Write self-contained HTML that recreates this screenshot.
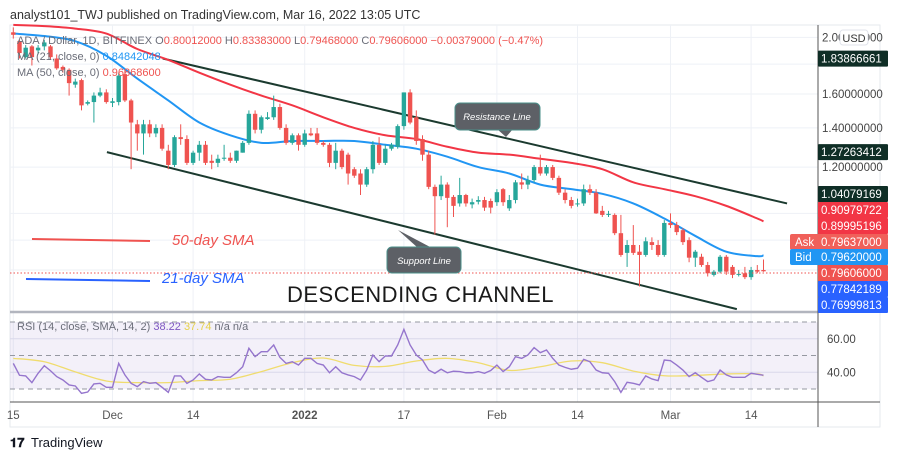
<!DOCTYPE html>
<html><head><meta charset="utf-8">
<style>
html,body{margin:0;padding:0;background:#fff;}
body{width:900px;height:460px;overflow:hidden;position:relative;font-family:"Liberation Sans",sans-serif;}
svg{position:absolute;left:0;top:0;}
</style></head>
<body>
<svg id="chart" width="900" height="460" viewBox="0 0 900 460" xmlns="http://www.w3.org/2000/svg">
  <text x="10" y="19" font-size="12.5" fill="#333">analyst101_TWJ published on TradingView.com, Mar 16, 2022 13:05 UTC</text>
  <rect x="10" y="25" width="870" height="402" fill="none" stroke="#e6e9ee"/>
  <g id="grid"></g>
  <rect x="10" y="322" width="808" height="67" fill="#7e57c2" fill-opacity="0.09"/>
  <g id="rsiGuides"></g>
  <g id="channel"></g>
  <g id="mas"></g>
  <g id="candles"></g>
  <g id="rsi"></g>
  <line x1="10" y1="273" x2="818" y2="273" stroke="#ef5350" stroke-width="1" stroke-dasharray="1.5,2"/>
  <line x1="10" y1="312" x2="818" y2="312" stroke="#b2b5be" stroke-width="2.5"/>
  <line x1="10" y1="402" x2="880" y2="402" stroke="#555" stroke-width="1"/>
  <line x1="818" y1="25" x2="818" y2="427" stroke="#555" stroke-width="1"/>
  <g id="xticks"></g>
  <g id="yticks"></g>

  <g font-size="11">
    <text x="17" y="44" fill="#6a6d78">ADA / Dollar, 1D, BITFINEX <tspan fill="#6a6d78">O</tspan><tspan fill="#ef5350">0.80012000</tspan> <tspan fill="#6a6d78">H</tspan><tspan fill="#ef5350">0.83383000</tspan> <tspan fill="#6a6d78">L</tspan><tspan fill="#ef5350">0.79468000</tspan> <tspan fill="#6a6d78">C</tspan><tspan fill="#ef5350">0.79606000 −0.00379000 (−0.47%)</tspan></text>
    <text x="17" y="60" fill="#6a6d78">MA (21, close, 0) <tspan fill="#2196f3">0.84842048</tspan></text>
    <text x="17" y="76" fill="#6a6d78">MA (50, close, 0) <tspan fill="#ef5350">0.96868600</tspan></text>
    <text x="17" y="330" fill="#6a6d78">RSI (14, close, SMA, 14, 2) <tspan fill="#7e57c2">38.22</tspan> <tspan fill="#e6d24a">37.74</tspan> <tspan>n/a</tspan> <tspan>n/a</tspan></text>
  </g>

  <line x1="32" y1="239" x2="150" y2="241" stroke="#ef5350" stroke-width="2"/>
  <text x="172" y="245" font-size="15" font-style="italic" fill="#ef5350">50-day SMA</text>
  <line x1="26" y1="279" x2="150" y2="281" stroke="#2962ff" stroke-width="2"/>
  <text x="162" y="283" font-size="15" font-style="italic" fill="#2962ff">21-day SMA</text>
  <text x="287" y="302" font-size="22" fill="#1a1a1a" letter-spacing="0.5">DESCENDING CHANNEL</text>

  <g>
    <path d="M398,230 L418,248 L432,248 Z" fill="#5d6066"/>
    <rect x="387" y="247" width="74" height="26" rx="5" fill="#5d6066" stroke="#4a8f8a" stroke-width="1"/>
    <text x="424" y="264" font-size="9.5" font-style="italic" fill="#fff" text-anchor="middle">Support Line</text>
  </g>
  <g>
    <path d="M497,129 L506,137 L513,129 Z" fill="#5d6066"/>
    <rect x="455" y="103" width="85" height="27" rx="5" fill="#5d6066" stroke="#4a8f8a" stroke-width="1"/>
    <text x="497" y="120" font-size="9.5" font-style="italic" fill="#fff" text-anchor="middle">Resistance Line</text>
  </g>

  <g id="priceBoxes"></g>

  <g>
    <text x="10" y="447" font-size="13" font-weight="bold" fill="#131722">𝟏𝟕</text>
    <text x="31" y="447" font-size="13" fill="#131722">TradingView</text>
  </g>
</svg>
<script>
// ---- data ----
const tickLabels = ['15','Dec','14','2022','17','Feb','14','Mar','14'];
const tickDays = [0,16,29,47,63,78,91,106,119];
const priceTicks = [2.0,1.6,1.4,1.2];
const gridPrices = [2.0,1.8,1.6,1.4,1.2,1.0,0.9,0.8];
const opens = [2.04,1.97,1.85,1.93,1.90,1.93,1.93,1.84,1.78,1.76,1.66,1.69,1.54,1.55,1.59,1.61,1.545,1.55,1.73,1.56,1.42,1.37,1.42,1.37,1.40,1.28,1.21,1.35,1.34,1.22,1.27,1.31,1.23,1.22,1.24,1.245,1.23,1.27,1.32,1.48,1.39,1.45,1.46,1.52,1.40,1.32,1.36,1.31,1.37,1.37,1.32,1.31,1.22,1.28,1.26,1.19,1.17,1.12,1.19,1.31,1.22,1.29,1.30,1.41,1.61,1.46,1.34,1.26,1.11,1.07,1.12,1.067,1.04,1.075,1.036,1.047,1.054,1.05,1.045,1.10,1.02,1.054,1.13,1.12,1.14,1.20,1.17,1.20,1.15,1.085,1.054,1.036,1.04,1.10,1.085,1.01,0.994,0.994,0.925,0.856,0.883,0.86,0.849,0.893,0.883,0.849,0.963,0.955,0.936,0.90,0.84,0.843,0.816,0.785,0.795,0.843,0.81,0.785,0.79,0.778,0.80,0.80012];
const highs = [2.08,1.98,1.94,1.94,1.94,1.98,1.94,1.87,1.79,1.77,1.70,1.70,1.56,1.61,1.64,1.63,1.575,1.74,1.76,1.57,1.445,1.445,1.445,1.42,1.42,1.31,1.36,1.42,1.36,1.28,1.33,1.33,1.26,1.26,1.31,1.27,1.28,1.33,1.50,1.50,1.47,1.49,1.59,1.54,1.42,1.37,1.37,1.39,1.40,1.40,1.33,1.32,1.32,1.29,1.27,1.20,1.19,1.20,1.33,1.35,1.31,1.32,1.42,1.61,1.63,1.50,1.36,1.28,1.12,1.16,1.13,1.075,1.15,1.08,1.06,1.07,1.067,1.06,1.10,1.105,1.075,1.14,1.17,1.16,1.21,1.26,1.21,1.21,1.16,1.10,1.067,1.06,1.12,1.12,1.10,1.03,1.01,1.00,0.994,0.90,0.955,0.883,0.91,0.91,0.90,0.974,1.00,0.967,0.944,0.91,0.866,0.853,0.826,0.80,0.849,0.849,0.816,0.80,0.81,0.81,0.816,0.83383];
const lows = [1.99,1.84,1.84,1.79,1.87,1.90,1.83,1.76,1.74,1.59,1.64,1.50,1.53,1.43,1.58,1.54,1.52,1.53,1.55,1.19,1.28,1.26,1.35,1.35,1.28,1.19,1.20,1.31,1.21,1.21,1.23,1.21,1.19,1.20,1.23,1.22,1.22,1.27,1.31,1.37,1.37,1.445,1.445,1.39,1.31,1.31,1.28,1.30,1.355,1.31,1.30,1.20,1.19,1.19,1.12,1.15,1.075,1.11,1.17,1.21,1.21,1.28,1.29,1.39,1.42,1.31,1.23,1.10,0.92,1.054,0.947,0.986,1.027,1.027,1.02,1.036,1.01,1.00,1.03,1.03,1.01,1.04,1.10,1.10,1.13,1.16,1.16,1.14,1.075,1.04,1.02,1.027,1.03,1.075,0.998,0.986,0.986,0.918,0.843,0.81,0.849,0.75,0.843,0.866,0.843,0.843,0.944,0.918,0.883,0.825,0.81,0.81,0.78,0.78,0.79,0.785,0.775,0.78,0.772,0.77,0.79,0.79468];
const closes = [2.02,1.88,1.92,1.85,1.92,1.96,1.85,1.77,1.76,1.67,1.68,1.53,1.55,1.59,1.61,1.55,1.555,1.72,1.56,1.43,1.37,1.42,1.37,1.40,1.29,1.21,1.35,1.34,1.22,1.27,1.31,1.22,1.22,1.24,1.245,1.23,1.28,1.32,1.48,1.39,1.46,1.46,1.52,1.40,1.32,1.36,1.31,1.37,1.36,1.32,1.31,1.22,1.28,1.20,1.17,1.16,1.12,1.19,1.31,1.22,1.29,1.31,1.41,1.61,1.43,1.33,1.26,1.11,1.07,1.12,1.063,1.03,1.075,1.04,1.045,1.054,1.023,1.023,1.087,1.045,1.054,1.13,1.12,1.14,1.20,1.17,1.20,1.15,1.085,1.054,1.03,1.04,1.10,1.085,1.00,0.994,0.998,0.925,0.849,0.883,0.856,0.849,0.896,0.883,0.849,0.963,0.955,0.929,0.893,0.84,0.86,0.816,0.79,0.795,0.843,0.795,0.785,0.788,0.778,0.80,0.795,0.79606];
const maDays = [0,5,10,15,20,25,30,35,40,45,50,55,60,65,70,75,80,85,90,95,100,105,110,115,120,121];
const ma21 = [2.03,2.01,1.97,1.86,1.70,1.56,1.43,1.36,1.32,1.33,1.33,1.33,1.31,1.29,1.25,1.20,1.17,1.12,1.10,1.08,1.04,0.98,0.915,0.86,0.845,0.848];
const ma50 = [2.10,2.09,2.07,2.03,1.91,1.83,1.74,1.66,1.59,1.53,1.46,1.40,1.36,1.34,1.30,1.27,1.26,1.24,1.22,1.19,1.13,1.10,1.07,1.03,0.98,0.969];
const rsiValues = [45.3,38.2,37.8,33.8,39.4,43.9,40.9,37.4,35.4,32.4,31.8,27.4,28.2,33.0,33.4,31.0,31.0,45.3,38.4,33.4,31.4,34.4,33.4,33.8,31.0,28.0,37.8,37.8,33.4,35.4,39.0,35.8,35.4,37.4,37.0,37.0,39.7,43.3,54.3,49.3,52.3,52.3,56.3,48.9,45.3,46.3,44.3,48.3,48.3,45.3,44.3,39.7,43.3,39.7,38.4,37.4,35.4,41.3,50.3,46.3,49.7,49.7,56.3,65.6,56.3,50.3,47.3,41.3,39.4,41.8,39.7,40.6,40.4,39.7,39.7,40.4,39.4,41.0,44.3,40.4,43.3,49.3,48.3,50.3,54.7,51.7,53.3,48.3,44.3,42.9,41.8,42.4,47.7,46.3,41.3,39.7,39.4,34.4,28.0,34.0,33.4,32.4,37.8,36.0,35.0,47.3,46.9,44.3,41.3,37.4,39.7,37.0,34.4,35.4,41.3,38.4,37.0,37.0,37.0,39.4,38.8,38.22];
const rsiMaDays = [0,5,10,15,20,25,30,35,40,45,50,55,60,65,70,75,80,85,90,95,100,105,110,115,120,121];
const rsiMa = [48.3,46.3,40.2,34.8,33.8,33.8,35.0,35.8,40.4,45.7,48.5,44.1,43.5,46.7,48.3,45.7,41.1,43.3,46.7,45.7,40.7,37.9,38.1,39.0,39.0,37.74];
const rsiLevels = [70,50,30];
const rsiTicks = [60,40];
const channelUpper = [[24.1,1.84],[124.8,1.04]];
const channelLower = [[15.1,1.2726],[116.7,0.686]];
// label boxes: text value and the (stacked) price level where TradingView placed the box
const axisBoxes = [
  {v:'1.83866661',p:1.8387,bg:'#0f2e26',fg:'#fff'},
  {v:'1.27263412',p:1.2726,bg:'#0f2e26',fg:'#fff'},
  {v:'1.04079169',p:1.0793,bg:'#0f2e26',fg:'#fff'},
  {v:'0.90979722',p:1.0135,bg:'#f23645',fg:'#fff'},
  {v:'0.89995196',p:0.9515,bg:'#f23645',fg:'#fff'},
  {v:'0.79637000',p:0.8934,bg:'#f0605a',fg:'#fff',tag:'Ask'},
  {v:'0.79620000',p:0.8422,bg:'#2196f3',fg:'#fff',tag:'Bid'},
  {v:'0.79606000',p:0.7909,bg:'#ef5350',fg:'#fff'},
  {v:'0.77842189',p:0.7426,bg:'#2962ff',fg:'#fff'},
  {v:'0.76999813',p:0.6971,bg:'#2962ff',fg:'#fff'}
];

// ---- scales ----
const NS='http://www.w3.org/2000/svg';
function xOf(d){return 13.3+6.2*d;}
function yOf(p){return 94-254*Math.log(p/1.6);}
function rOf(v){return 355.5-(v-50)*1.675;}
function mk(tag,attrs,parent){const e=document.createElementNS(NS,tag);for(const k in attrs)e.setAttribute(k,attrs[k]);parent.appendChild(e);return e;}

const grid=document.getElementById('grid');
gridPrices.forEach(p=>{
  const l=mk('line',{x1:10,x2:818,y1:yOf(p),y2:yOf(p),stroke:'#eef1f6','stroke-width':1},grid);
  
  
});
tickDays.forEach(d=>{
  const l=mk('line',{x1:xOf(d),x2:xOf(d),y1:25,y2:402,stroke:'#eef1f6','stroke-width':1},grid);
  
  
});
rsiTicks.forEach(v=>{
  const l=mk('line',{x1:10,x2:818,y1:rOf(v),y2:rOf(v),stroke:'#e3e6f0','stroke-width':1},grid);
  
  
});
const rg=document.getElementById('rsiGuides');
rsiLevels.forEach(v=>{
  const l=mk('line',{x1:10,x2:818,y1:rOf(v),y2:rOf(v),stroke:'#9598a1','stroke-width':1,'stroke-dasharray':'5,4'},rg);
  
  
});

// channel
const ch=document.getElementById('channel');
[channelUpper,channelLower].forEach((c,i)=>{
  const l=mk('line',{x1:xOf(c[0][0]),y1:yOf(c[0][1]),x2:xOf(c[1][0]),y2:yOf(c[1][1]),stroke:'#1b3a2f','stroke-width':2},ch);
  
  
});

// MAs
function smoothPath(xs,ys){
  let d='M'+xs[0]+','+ys[0];
  for(let i=1;i<xs.length;i++){
    const x0=xs[i-1],y0=ys[i-1],x1=xs[i],y1=ys[i];
    const xp=i>1?xs[i-2]:x0,yp=i>1?ys[i-2]:y0;
    const xn=i<xs.length-1?xs[i+1]:x1,yn=i<xs.length-1?ys[i+1]:y1;
    const c1x=x0+(x1-xp)/6,c1y=y0+(y1-yp)/6,c2x=x1-(xn-x0)/6,c2y=y1-(yn-y0)/6;
    d+=' C'+c1x+','+c1y+' '+c2x+','+c2y+' '+x1+','+y1;
  }
  return d;
}
const mas=document.getElementById('mas');
const p50=mk('path',{d:smoothPath(maDays.map(xOf),ma50.map(yOf)),fill:'none',stroke:'#f23645','stroke-width':2},mas);


const p21=mk('path',{d:smoothPath(maDays.map(xOf),ma21.map(yOf)),fill:'none',stroke:'#2196f3','stroke-width':2},mas);



// candles
const cg=document.getElementById('candles');
closes.forEach((c,i)=>{
  const o=opens[i],up=c>=o,col=up?'#26a69a':'#ef5350',x=xOf(i);
  const g=mk('g',{},cg);
  
  
  mk('line',{x1:x,x2:x,y1:yOf(highs[i]),y2:yOf(lows[i]),stroke:col,'stroke-width':1},g);
  const yt=yOf(Math.max(o,c)),yb=yOf(Math.min(o,c));
  mk('rect',{x:x-2.2,y:yt,width:4.4,height:Math.max(1,yb-yt),fill:col},g);
});

// RSI
const rs=document.getElementById('rsi');
const rma=mk('path',{d:smoothPath(rsiMaDays.map(xOf),rsiMa.map(rOf)),fill:'none',stroke:'#f0dc6e','stroke-width':1.3},rs);


const rl=mk('polyline',{points:rsiValues.map((v,i)=>xOf(i)+','+rOf(v)).join(' '),fill:'none',stroke:'#9575cd','stroke-width':1.4},rs);



// time axis
const xt=document.getElementById('xticks');
tickLabels.forEach((t,i)=>{
  const e=mk('text',{x:xOf(tickDays[i]),y:419,'font-size':11.5,fill:'#555','text-anchor':'middle','font-weight':t==='2022'?'bold':'normal'},xt);
  e.textContent=t;
  
  
});

// price axis
const yt=document.getElementById('yticks');
priceTicks.forEach(p=>{
  const e=mk('text',{x:822,y:yOf(p)+4,'font-size':11.5,fill:'#444'},yt);
  e.textContent=p.toFixed(8);
  
  
});
rsiTicks.forEach(v=>{
  const e=mk('text',{x:827,y:rOf(v)+4,'font-size':11.5,fill:'#444'},yt);
  e.textContent=v.toFixed(2);
  
  
});
const usd=mk('rect',{x:840,y:30,width:28,height:15,rx:3,fill:'#fff',stroke:'#e0e3eb'},yt);


const ut=mk('text',{x:854,y:42,'font-size':11,fill:'#333','text-anchor':'middle'},yt);
ut.textContent='USD';



const pb=document.getElementById('priceBoxes');
axisBoxes.forEach(b=>{
  const y=yOf(b.p);
  const g=mk('g',{},pb);
  
  
  if(b.tag){
    mk('rect',{x:790,y:y-8,width:30,height:16,rx:2,fill:b.bg},g);
    const tt=mk('text',{x:795,y:y+4,'font-size':11.5,fill:'#fff'},g);tt.textContent=b.tag;
  }
  mk('rect',{x:818,y:y-8,width:70,height:16,rx:1,fill:b.bg},g);
  const t=mk('text',{x:821,y:y+4,'font-size':11.5,fill:b.fg},g);
  t.textContent=b.v;
});
</script>
</body></html>
